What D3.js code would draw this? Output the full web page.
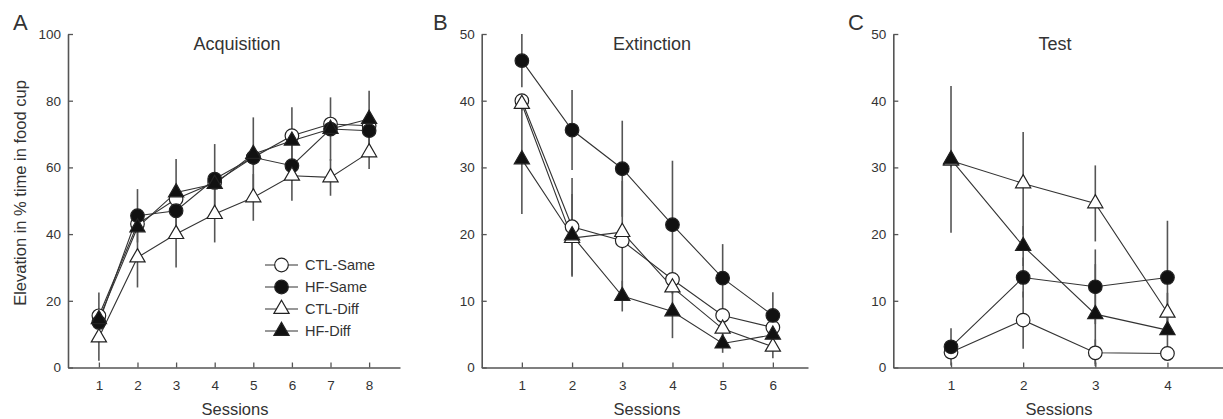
<!DOCTYPE html>
<html>
<head>
<meta charset="utf-8">
<script src="https://cdn.jsdelivr.net/npm/d3@7"></script>
<style>
  body { margin:0; background:#fff; }
  text { font-family:"Liberation Sans", Arial, sans-serif; fill:#333; }
</style>
</head>
<body>
<svg id="svg" width="1223" height="419"></svg>
<script>
var svg = d3.select("#svg");

// series names, in legend order
var groups = ["CTL-Same", "HF-Same", "CTL-Diff", "HF-Diff"];

// A - Acquisition
var sessA    = [1,2,3,4,5,6,7,8];
var ctlSameA = [15.5, 43, 50.5, 55.5, 63, 69.5, 73, 72.5];
var hfSameA  = [13.5, 45.5, 47, 56.5, 63, 60.5, 71.5, 71];
var ctlDiffA = [9, 33, 40, 46, 51, 57.5, 57, 64.5];
var hfDiffA  = [14.5, 42, 52.5, 55, 64, 68, 71.5, 74.5];
var ctlSameAErr = [7, 1.5, 1.5, 1.5, 1.5, 1.5, 1.5, 1.5];
var hfSameAErr  = [1.5, 8, 1.5, 10.5, 1.5, 10.5, 9.5, 1.5];
var ctlDiffAErr = [7, 9, 10, 8.5, 7, 1.5, 5.5, 5];
var hfDiffAErr  = [1.5, 1.5, 10, 1.5, 11, 10, 1.5, 8.5];

// B - Extinction
var sessB    = [1,2,3,4,5,6];
var ctlSameB = [40, 21.1, 19, 13.2, 7.8, 6];
var hfSameB  = [46, 35.6, 29.8, 21.4, 13.4, 7.8];
var ctlDiffB = [39.5, 19.4, 20.3, 12, 5.8, 3.1];
var hfDiffB  = [31.2, 19.8, 10.7, 8.4, 3.6, 4.9];
var ctlSameBErr = [1, 7.3, 9, 1, 1, 1];
var hfSameBErr  = [4, 6, 7.2, 9.6, 5.1, 3.5];
var ctlDiffBErr = [1, 1, 1, 1, 1, 1.7];
var hfDiffBErr  = [8.2, 6.2, 2.3, 4, 1.4, 1];

// C - Test
var sessC    = [1,2,3,4];
var ctlSameC = [2.3, 7.1, 2.2, 2.1];
var hfSameC  = [3.1, 13.5, 12.1, 13.5];
var ctlDiffC = [31, 27.6, 24.6, 8.2];
var hfDiffC  = [31.2, 18.2, 8.0, 5.6];
var ctlSameCErr = [1, 4.3, 2, 1];
var hfSameCErr  = [2.8, 3, 5.6, 8.5];
var ctlDiffCErr = [1, 7.7, 5.7, 3];
var hfDiffCErr  = [11, 3, 7.5, 3];

var ticksA = [0,20,40,60,80,100],
    ticksBC = [0,10,20,30,40,50];

var panels = [
  {letter:"A", title:"Acquisition", x0:68,    x1:400,  lx:13,  tx:237,  sx:235,  dom:[0.2,8.8],  yMax:100, yt:ticksA,  s:sessA,
   v:[ctlSameA,hfSameA,ctlDiffA,hfDiffA], e:[ctlSameAErr,hfSameAErr,ctlDiffAErr,hfDiffAErr]},
  {letter:"B", title:"Extinction",  x0:481.7, x1:808,  lx:433, tx:652,  sx:647,  dom:[0.2,6.7],  yMax:50,  yt:ticksBC, s:sessB,
   v:[ctlSameB,hfSameB,ctlDiffB,hfDiffB], e:[ctlSameBErr,hfSameBErr,ctlDiffBErr,hfDiffBErr]},
  {letter:"C", title:"Test",        x0:893.3, x1:1223, lx:848, tx:1055, sx:1059, dom:[0.2,4.77], yMax:50,  yt:ticksBC, s:sessC,
   v:[ctlSameC,hfSameC,ctlDiffC,hfDiffC], e:[ctlSameCErr,hfSameCErr,ctlDiffCErr,hfDiffCErr]}
];

var yTop = 34, yBot = 367.5;
var ink = "#222", axisCol = "#555";

// marker per group: [shape, filled]
var marks = [[d3.symbolCircle,false],[d3.symbolCircle,true],[d3.symbolTriangle,false],[d3.symbolTriangle,true]];
function sym(i) { return d3.symbol().type(marks[i][0]).size(marks[i][0]===d3.symbolCircle ? 145 : 100)(); }

panels.forEach(function(p) {
  var x = d3.scaleLinear().domain(p.dom).range([p.x0, p.x1]),
      y = d3.scaleLinear().domain([0, p.yMax]).range([yBot, yTop]);
  var g = svg.append("g");

  // axes, ticks pointing inward
  var ax = g.append("g").attr("transform","translate(0,"+yBot+")")
      .call(d3.axisBottom(x).tickValues(p.s).tickFormat(d3.format("d"))
        .tickSizeInner(-5).tickSizeOuter(0).tickPadding(13));
  var ay = g.append("g").attr("transform","translate("+p.x0+",0)")
      .call(d3.axisLeft(y).tickValues(p.yt).tickFormat(d3.format("d"))
        .tickSizeInner(-5).tickSizeOuter(0).tickPadding(7));
  [ax, ay].forEach(function(a) {
    a.select(".domain").attr("stroke",axisCol).attr("stroke-width",1.6);
    a.selectAll(".tick line").attr("stroke",axisCol).attr("stroke-width",1.3);
    a.selectAll(".tick text").attr("fill","#333").style("font-size","13.5px")
      .style("font-family",'"Liberation Sans", Arial, sans-serif');
  });

  g.append("text").attr("x",p.sx).attr("y",415)
    .attr("text-anchor","middle").style("font-size","16.5px").text("Sessions");
  g.append("text").attr("x",p.tx).attr("y",50)
    .attr("text-anchor","middle").style("font-size","18px").text(p.title);
  g.append("text").attr("x",p.lx).attr("y",30).style("font-size","22px").text(p.letter);

  // error bars
  p.v.forEach(function(vals, i) {
    g.selectAll(null).data(vals).enter().append("line")
      .attr("x1",(d,j)=>x(p.s[j])).attr("x2",(d,j)=>x(p.s[j]))
      .attr("y1",(d,j)=>y(Math.min(p.yMax, d+p.e[i][j])))
      .attr("y2",(d,j)=>y(Math.max(0, d-p.e[i][j])))
      .attr("stroke","#555").attr("stroke-width",1.6);
  });

  // lines
  var line = d3.line().x((d,j)=>x(p.s[j])).y(d=>y(d));
  p.v.forEach(function(vals) {
    g.append("path").attr("d",line(vals)).attr("fill","none")
      .attr("stroke","#333").attr("stroke-width",1.1);
  });

  // markers
  p.v.forEach(function(vals, i) {
    g.selectAll(null).data(vals).enter().append("path")
      .attr("transform",(d,j)=>"translate("+x(p.s[j])+","+y(d)+")")
      .attr("d",sym(i))
      .attr("fill",marks[i][1] ? "#111" : "#fff")
      .attr("stroke",ink).attr("stroke-width",1.2);
  });
});

// y axis label, panel A
svg.append("text").attr("transform","translate(26,193) rotate(-90)")
  .attr("text-anchor","middle").style("font-size","16.5px")
  .text("Elevation in % time in food cup");

// legend inside panel A
var leg = svg.append("g").selectAll().data(groups).enter().append("g")
  .attr("transform",(d,i)=>"translate(265,"+(265+22*i)+")");
leg.append("line").attr("x1",0).attr("x2",33).attr("y1",0).attr("y2",0)
  .attr("stroke","#333").attr("stroke-width",1.1);
leg.append("path").attr("transform","translate(16.5,0)").attr("d",(d,i)=>sym(i))
  .attr("fill",(d,i)=>marks[i][1] ? "#111" : "#fff").attr("stroke",ink).attr("stroke-width",1.2);
leg.append("text").attr("x",40).attr("y",5).style("font-size","14.5px").text(d=>d);
</script>
</body>
</html>
